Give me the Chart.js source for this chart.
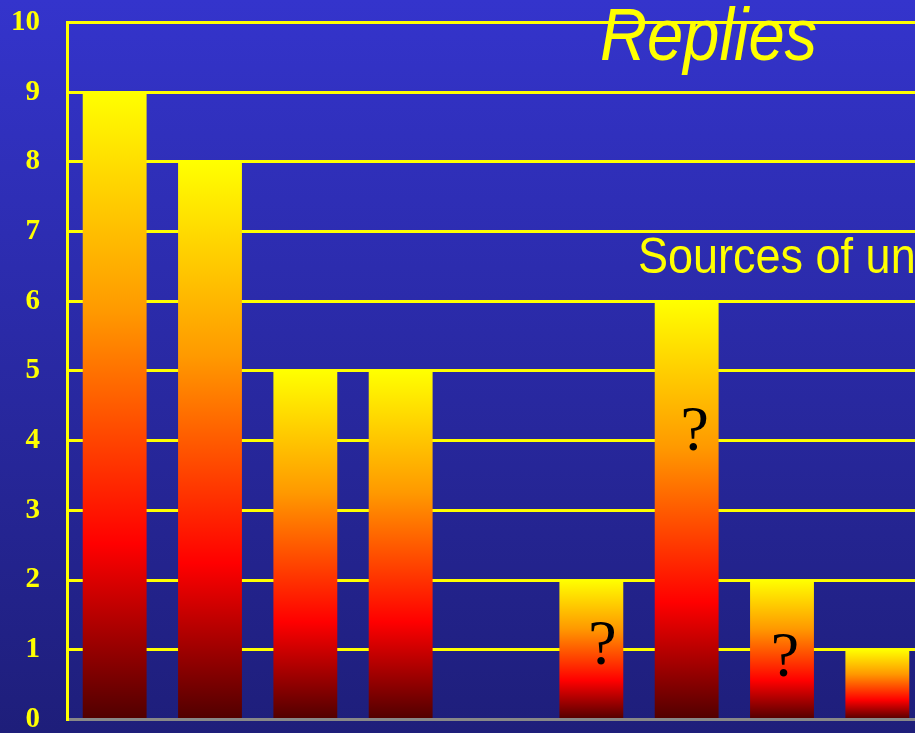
<!DOCTYPE html>
<html lang="en">
<head>
    <meta charset="UTF-8">
    <title>Replies</title>
    <script src="https://cdn.jsdelivr.net/npm/chart.js"></script>
    <style>
        html, body {
            margin: 0;
            padding: 0;
            overflow: hidden;
            background-color: #2a2aa8;
        }

        #chart-container {
            position: relative;
            width: 915px;
            height: 733px;
            overflow: hidden;
        }

        #repliesChart {
            position: absolute;
            left: 0;
            top: 0;
        }
    </style>
</head>
<body>
    <div id="chart-container">
        <canvas id="repliesChart" width="925" height="733"></canvas>
    </div>
    <script>
        // Dados
        const categories = ['1', '2', '3', '4', '5', '6', '7', '8', '9'];
        const replies = [9, 8, 5, 5, 0, 2, 6, 2, 1];
        const yTicks = [0, 1, 2, 3, 4, 5, 6, 7, 8, 9, 10];

        // Pontos de interrogação (categoria, valor)
        const questionIndex = [5, 6, 7];
        const questionValue = [0.8, 3.86, 0.62];

        const yellow = '#ffff00';
        const areaTop = 22;      // onde fica o 10
        const areaBottom = 719;  // onde fica o 0

        // Gradiente de cada barra (amarelo em cima, vermelho escuro embaixo)
        function barGradient(context) {
            const chart = context.chart;
            const yScale = chart.scales.y;
            if (!chart.chartArea || !yScale) return '#ff9900';
            const value = context.raw;
            const top = yScale.getPixelForValue(value);
            const bottom = yScale.getPixelForValue(0);
            if (bottom - top < 1) return '#ff9900';
            const g = chart.ctx.createLinearGradient(0, top, 0, bottom);
            g.addColorStop(0, '#ffff00');
            g.addColorStop(0.35, '#ff9900');
            g.addColorStop(0.72, '#ff0000');
            g.addColorStop(1, '#500000');
            return g;
        }

        const backgroundPlugin = {
            id: 'backgroundPlugin',
            beforeDraw(chart) {
                const ctx = chart.ctx;
                const off = chart.$offsetTop || 0;
                const g = ctx.createLinearGradient(0, off, 0, off + 733);
                g.addColorStop(0, '#3434cc');
                g.addColorStop(1, '#1e1e7a');
                ctx.save();
                ctx.fillStyle = g;
                ctx.fillRect(0, 0, chart.width, chart.height);
                ctx.restore();
            }
        };

        const textPlugin = {
            id: 'textPlugin',
            afterDraw(chart) {
                const ctx = chart.ctx;
                const xScale = chart.scales.x;
                const yScale = chart.scales.y;
                const off = chart.$offsetTop || 0;
                ctx.save();
                ctx.fillStyle = yellow;
                ctx.textBaseline = 'alphabetic';

                // Título
                ctx.save();
                ctx.translate(600, off + 60);
                ctx.scale(0.88, 1);
                ctx.font = 'italic 74px "Liberation Sans", Arial, sans-serif';
                ctx.fillText('Replies', 0, 0);
                ctx.restore();

                // Subtítulo (cortado à direita)
                ctx.save();
                ctx.translate(638, off + 273);
                ctx.scale(0.9, 1);
                ctx.font = '50px "Liberation Sans", Arial, sans-serif';
                ctx.fillText('Sources of uncertainty', 0, 0);
                ctx.restore();

                // Pontos de interrogação
                const offsets = [11, 8, 3];
                ctx.fillStyle = '#000';
                ctx.textAlign = 'center';
                ctx.font = '64px "Liberation Serif", "Times New Roman", serif';
                questionIndex.forEach((idx, i) => {
                    const x = xScale.getPixelForValue(idx) + offsets[i];
                    const y = yScale.getPixelForValue(questionValue[i]);
                    ctx.fillText('?', x, y);
                });
                ctx.restore();
            }
        };

        const canvas = document.getElementById('repliesChart');
        const repliesChart = new Chart(canvas.getContext('2d'), {
            type: 'bar',
            data: {
                labels: categories,
                datasets: [{
                    label: 'Replies',
                    data: replies,
                    backgroundColor: barGradient,
                    borderWidth: 0,
                    barPercentage: 0.67,
                    categoryPercentage: 1
                }]
            },
            options: {
                responsive: false,
                maintainAspectRatio: false,
                animation: false,
                layout: {
                    padding: 0
                },
                plugins: {
                    legend: { display: false },
                    tooltip: { enabled: false }
                },
                scales: {
                    x: {
                        grid: { display: false },
                        border: { display: true, color: '#888888', width: 3 },
                        ticks: { display: false }
                    },
                    y: {
                        min: 0,
                        max: 10,
                        afterBuildTicks(scale) {
                            scale.ticks = yTicks.map(v => ({ value: v }));
                        },
                        afterFit(scale) {
                            scale.width = 67;
                        },
                        grid: {
                            color: (c) => c.tick && c.tick.value === 0 ? 'rgba(0,0,0,0)' : yellow,
                            lineWidth: 3,
                            drawTicks: false
                        },
                        border: { display: true, color: yellow, width: 3 },
                        ticks: {
                            color: yellow,
                            padding: 27,
                            font: { family: '"Liberation Serif", "Times New Roman", serif', size: 29, weight: 'bold' }
                        }
                    }
                }
            },
            plugins: [backgroundPlugin, textPlugin]
        });

        // Ajusta a altura do canvas para que 10 fique em y=22 e 0 em y=719
        const area = repliesChart.chartArea;
        const extra = (areaBottom - areaTop) - (area.bottom - area.top);
        repliesChart.resize(925, repliesChart.height + extra);
        const offsetTop = repliesChart.chartArea.top - areaTop;
        repliesChart.$offsetTop = offsetTop;
        canvas.style.top = (-offsetTop) + 'px';
        repliesChart.update();
    </script>
</body>
</html>
